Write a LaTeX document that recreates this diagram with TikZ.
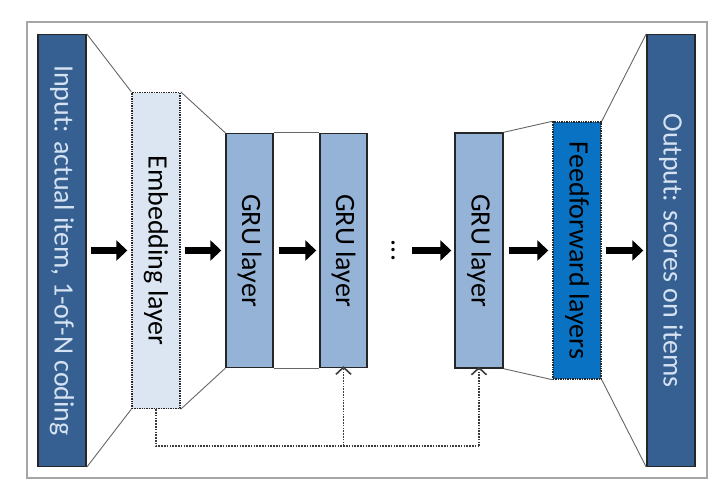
\documentclass[tikz,border=0pt]{standalone}
\usepackage{fontspec}
\setmainfont{Carlito}
\usetikzlibrary{arrows.meta}
\definecolor{dkblue}{HTML}{366092}
\definecolor{ltblue}{HTML}{DCE6F2}
\definecolor{midblue}{HTML}{95B3D7}
\definecolor{ffblue}{HTML}{0A72C2}
\definecolor{txtlight}{HTML}{D5E2F2}
\definecolor{framegray}{HTML}{A6A6A6}
\definecolor{edgegray}{HTML}{262626}
\tikzset{
  box/.style={rectangle, inner sep=0pt, minimum width=48pt, font=\fontsize{28}{32}\selectfont},
  solidbox/.style={box, draw=edgegray, line width=1.4pt},
  dotbox/.style={box, draw=edgegray, line width=1.4pt, dash pattern=on 1.4pt off 1pt},
  conn/.style={draw=gray!80!black, line width=0.9pt},
  bigarrow/.style={line width=7pt, -{Triangle[length=11pt,width=20pt]}},
  fb/.style={draw=edgegray!90, line width=1.6pt, dash pattern=on 1.6pt off 1.2pt},
  fbtip/.style={-{Straight Barb[length=7pt,width=15pt,line width=1.6pt]}}
}
\begin{document}
\begin{tikzpicture}[x=1pt,y=-1pt]
\useasboundingbox (0,0) rectangle (720,496);
\draw[framegray, line width=1.3pt] (27,22) rectangle (707,478);

\node[solidbox, fill=dkblue, text=txtlight, minimum height=432pt] (inp) at (62,250.5) {\rotatebox{-90}{Input: actual item, 1-of-N coding}};
\node[dotbox, fill=ltblue, minimum height=316pt] (emb) at (156,250.5) {\rotatebox{-90}{Embedding layer}};
\node[solidbox, fill=midblue, minimum width=47pt, minimum height=234pt] (gru1) at (249.5,250.5) {\rotatebox{-90}{GRU layer}};
\node[solidbox, fill=midblue, minimum width=47pt, minimum height=234pt] (gru2) at (343.5,250.5) {\rotatebox{-90}{GRU layer}};
\node[box, minimum width=38pt] (dots) at (393,250.5) {\rotatebox{-90}{...}};
\node[solidbox, fill=midblue, minimum height=235pt] (gru3) at (479,250.5) {\rotatebox{-90}{GRU layer}};
\node[dotbox, fill=ffblue, minimum height=257pt] (ff) at (577,250.5) {\rotatebox{-90}{Feedforward layers}};
\node[solidbox, fill=dkblue, text=txtlight, minimum height=432pt] (out) at (671,250.5) {\rotatebox{-90}{Output: scores on items}};

% perspective connectors
\draw[conn] (inp.north east) -- (emb.north west);
\draw[conn] (inp.south east) -- (emb.south west);
\draw[conn] (emb.north east) -- (gru1.north west);
\draw[conn] (emb.south east) -- (gru1.south west);
\draw[conn] (gru1.north east) -- (gru2.north west);
\draw[conn] (gru1.south east) -- (gru2.south west);
\draw[conn] (gru3.north east) -- (ff.north west);
\draw[conn] (gru3.south east) -- (ff.south west);
\draw[conn] (ff.north east) -- (out.north west);
\draw[conn] (ff.south east) -- (out.south west);

% thick arrows
\draw[bigarrow] ([xshift=4pt]inp.east) -- ([xshift=-4pt]emb.west);
\draw[bigarrow] ([xshift=4pt]emb.east) -- ([xshift=-4pt]gru1.west);
\draw[bigarrow] ([xshift=5pt]gru1.east) -- ([xshift=-3pt]gru2.west);
\draw[bigarrow] (dots.east) -- ([xshift=-3pt]gru3.west);
\draw[bigarrow] ([xshift=5pt]gru3.east) -- ([xshift=-4pt]ff.west);
\draw[bigarrow] ([xshift=4pt]ff.east) -- ([xshift=-3pt]out.west);

% feedback
\coordinate (fbl) at (156,446);
\draw[fb] (emb.south) -- (fbl) -- (fbl -| gru3.south);
\draw[fb, fbtip] (fbl -| gru3.south) -- ([yshift=2pt]gru3.south);
\draw[fb, fbtip] (fbl -| gru2.south) -- ([yshift=2pt]gru2.south);
\end{tikzpicture}
\end{document}
